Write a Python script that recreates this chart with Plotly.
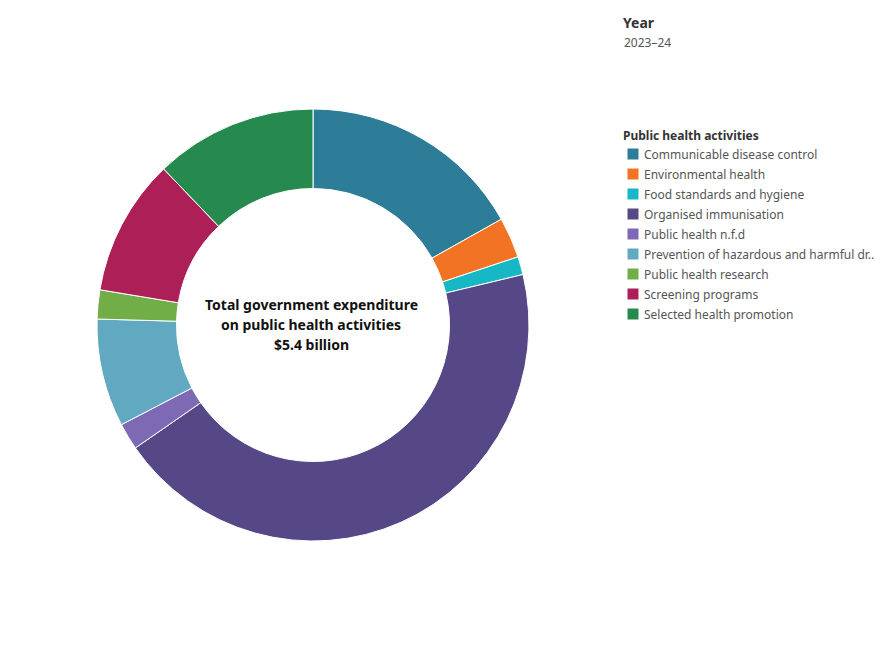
import plotly.graph_objects as go

categories = [
    "Communicable disease control",
    "Environmental health",
    "Food standards and hygiene",
    "Organised immunisation",
    "Public health n.f.d",
    "Prevention of hazardous and harmful dr..",
    "Public health research",
    "Screening programs",
    "Selected health promotion",
]
values_musd = [910, 164, 73, 2382, 108, 436, 117, 553, 656]
colors = ["#2E7D98", "#F37324", "#17B8C5", "#564886", "#7D69B4",
          "#60A9C0", "#71AE48", "#AC1F57", "#268A4E"]
year_label = "2023–24"
center_lines = ["Total government expenditure", "on public health activities", "$5.4 billion"]
legend_title = "Public health activities"

W, H = 890, 650
cx, cy, R = 313, 325, 216
FONT = "Noto Sans"

fig = go.Figure(go.Pie(
    labels=categories,
    values=values_musd,
    marker=dict(colors=colors, line=dict(color="white", width=1)),
    sort=False,
    direction="clockwise",
    rotation=0,
    hole=0.632,
    textinfo="none",
    showlegend=False,
    domain=dict(x=[(cx - R) / W, (cx + R) / W], y=[(H - cy - R) / H, (H - cy + R) / H]),
    hovertemplate="%{label}<br>$%{value:,}m<extra></extra>",
))

def px(x):
    return x / W

def py(y):
    return 1 - y / H

for i, line in enumerate(center_lines):
    fig.add_annotation(x=px(311), y=py(304.5 + 20 * i), xref="paper", yref="paper",
                       text="<b>" + line + "</b>", showarrow=False,
                       xanchor="center", yanchor="middle",
                       font=dict(family=FONT, size=14, color="#111111"))

fig.add_annotation(x=px(621), y=py(23), xref="paper", yref="paper",
                   text="<b>Year</b>", showarrow=False, xanchor="left", yanchor="middle",
                   font=dict(family=FONT, size=14, color="#333333"))
fig.add_annotation(x=px(622), y=py(43), xref="paper", yref="paper",
                   text=year_label, showarrow=False, xanchor="left", yanchor="middle",
                   font=dict(family=FONT, size=12, color="#555555"))

# Legend (drawn to match the reference layout)
fig.add_annotation(x=px(621), y=py(135), xref="paper", yref="paper",
                   text="<b>" + legend_title + "</b>", showarrow=False,
                   xanchor="left", yanchor="middle",
                   font=dict(family=FONT, size=12, color="#333333"))
for i, (name, col) in enumerate(zip(categories, colors)):
    yc = 154 + 20 * i
    fig.add_shape(type="rect", xref="paper", yref="paper",
                  x0=px(627.5), x1=px(638.5), y0=py(yc - 5.5), y1=py(yc + 5.5),
                  fillcolor=col, line=dict(width=0))
    fig.add_annotation(x=px(642), y=py(yc), xref="paper", yref="paper",
                       text=name, showarrow=False, xanchor="left", yanchor="middle",
                       font=dict(family=FONT, size=12, color="#555555"))

fig.update_layout(
    width=W, height=H,
    margin=dict(l=0, r=0, t=0, b=0),
    paper_bgcolor="white", plot_bgcolor="white",
    showlegend=False,
)

fig.write_html("out.html")
